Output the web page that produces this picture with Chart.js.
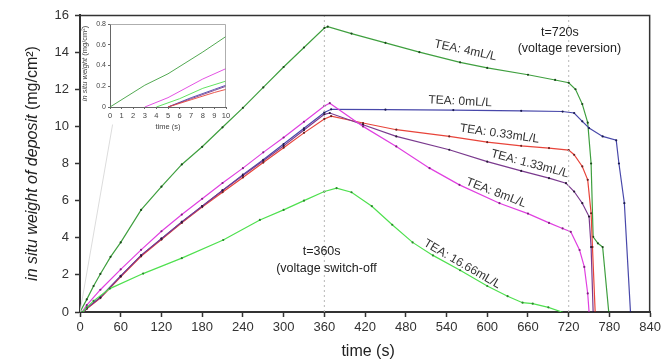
<!DOCTYPE html>
<html>
<head>
<meta charset="utf-8">
<script src="https://cdn.jsdelivr.net/npm/chart.js@4.4.1/dist/chart.umd.min.js"></script>
<style>
  body { margin: 0; background: #fff; }
  #wrap { position: relative; width: 664px; height: 364px; }
  #mainChart { position: absolute; left: 0; top: 0; }
  #insetChart { position: absolute; left: 78px; top: 14px; }
</style>
</head>
<body>
<div id="wrap">
  <canvas id="mainChart" width="664" height="364"></canvas>
  <canvas id="insetChart" width="156" height="122"></canvas>
</div>
<script>
// ---- data (time in s, weight in mg/cm2) ----
const xTicks = [0, 60, 120, 180, 240, 300, 360, 420, 480, 540, 600, 660, 720, 780, 840];
const yTicks = [0, 2, 4, 6, 8, 10, 12, 14, 16];

// TEA: 4mL/L
const t4 = [0, 10, 20, 30, 45, 60, 90, 120, 150, 180, 210, 240, 270, 300, 330, 360, 365, 400, 450, 500, 560, 600, 660, 700, 720, 730, 740, 748, 753, 756, 763, 770, 779];
const w4 = [0, 0.68, 1.4, 2.05, 2.97, 3.75, 5.5, 6.75, 7.95, 8.9, 9.95, 11.0, 12.1, 13.2, 14.25, 15.3, 15.37, 15.0, 14.5, 14.0, 13.45, 13.15, 12.78, 12.5, 12.35, 12.0, 11.2, 10.2, 8.0, 4.05, 3.7, 3.5, 0];
// TEA: 0mL/L
const t0 = [0, 5, 10, 30, 60, 90, 120, 150, 180, 210, 240, 270, 300, 330, 360, 370, 450, 550, 650, 711, 728, 740, 750, 770, 790, 794, 802, 811];
const w0 = [0, 0, 0.21, 0.8, 1.95, 3.05, 3.95, 4.85, 5.7, 6.55, 7.4, 8.2, 9.05, 9.9, 10.75, 10.92, 10.9, 10.88, 10.84, 10.8, 10.72, 10.27, 9.91, 9.46, 9.25, 8.0, 5.86, 0];
// TEA: 0.33mL/L
const t033 = [0, 5, 10, 30, 60, 90, 120, 150, 180, 210, 240, 270, 300, 330, 360, 370, 417, 466, 544, 600, 650, 691, 720, 728, 740, 748, 753, 755, 759];
const w033 = [0, 0, 0.17, 0.75, 1.9, 3.0, 3.9, 4.8, 5.65, 6.45, 7.25, 8.05, 8.85, 9.65, 10.4, 10.55, 10.18, 9.82, 9.46, 9.15, 8.95, 8.83, 8.72, 8.47, 7.84, 7.12, 5.32, 3.5, 0];
// TEA: 1.33mL/L
const t133 = [0, 5, 10, 30, 60, 90, 120, 150, 180, 210, 240, 270, 300, 330, 360, 368, 417, 466, 544, 600, 650, 691, 716, 728, 740, 750, 753, 756];
const w133 = [0, 0, 0.2, 0.78, 1.93, 3.05, 3.95, 4.85, 5.7, 6.55, 7.35, 8.15, 8.95, 9.8, 10.65, 10.72, 10.09, 9.46, 8.74, 8.1, 7.6, 7.21, 6.94, 6.49, 5.86, 5.14, 3.5, 0];
// TEA: 8mL/L
const t8 = [0, 3, 10, 30, 60, 90, 120, 150, 180, 210, 240, 270, 300, 330, 360, 368, 417, 466, 515, 559, 618, 660, 691, 711, 723, 736, 743, 748, 750];
const w8 = [0, 0, 0.37, 1.2, 2.3, 3.35, 4.35, 5.25, 6.1, 6.95, 7.75, 8.6, 9.4, 10.25, 11.1, 11.25, 10.0, 8.92, 7.75, 6.85, 5.86, 5.3, 4.8, 4.5, 4.32, 3.34, 2.43, 1.0, 0];
// TEA: 16.66mL/L
const t1666 = [0, 4, 10, 20, 44, 93, 150, 211, 265, 300, 330, 360, 378, 400, 430, 460, 490, 520, 560, 600, 630, 652, 667, 690, 710];
const w1666 = [0, 0, 0.25, 0.6, 1.26, 2.07, 2.9, 3.88, 4.96, 5.5, 6.0, 6.49, 6.67, 6.45, 5.7, 4.7, 3.75, 3.05, 2.25, 1.4, 0.85, 0.5, 0.45, 0.25, 0];

// inset (first 10 s)
const insetTicksX = [0, 1, 2, 3, 4, 5, 6, 7, 8, 9, 10];
const iT4 = [0, 3, 5, 8, 10];       const iW4 = [0, 0.21, 0.32, 0.53, 0.68];
const iT8 = [3, 5, 8, 10];          const iW8 = [0, 0.09, 0.27, 0.37];
const iT1666 = [4, 6, 8, 10];       const iW1666 = [0, 0.08, 0.18, 0.25];
const iT0 = [5, 7, 9, 10];          const iW0 = [0, 0.09, 0.17, 0.21];
const iT133 = [5, 7, 9, 10];        const iW133 = [0, 0.08, 0.16, 0.2];
const iT033 = [5, 7, 9, 10];        const iW033 = [0, 0.07, 0.14, 0.17];

const markTimes = [360, 720];

const colors = {
  c4: "#3f9f3f", c0: "#4848aa", c033: "#e8443a", c133: "#7a3a8e", c8: "#e040e0", c1666: "#4fe04f"
};

const pts = (xs, ys) => xs.map((v, i) => ({ x: v, y: ys[i] }));

const series = (label, xs, ys, color, dot) => ({
  label: label,
  data: pts(xs, ys),
  borderColor: color,
  borderWidth: 1.2,
  pointRadius: 1.1,
  pointBackgroundColor: dot,
  pointBorderWidth: 0,
  tension: 0,
});

const font = "'Liberation Sans', Arial, sans-serif";

// text drawn in data coordinates through the scales
const textPlugin = {
  id: "texts",
  afterDatasetsDraw(chart) {
    const { ctx, chartArea: a, scales: { x, y } } = chart;
    ctx.save();
    // frame
    ctx.strokeStyle = "#333";
    ctx.lineWidth = 1.5;
    ctx.beginPath();
    ctx.moveTo(a.left, a.top + 0.5);
    ctx.lineTo(a.right - 0.5, a.top + 0.5);
    ctx.lineTo(a.right - 0.5, a.bottom);
    ctx.stroke();

    ctx.fillStyle = "#222";
    ctx.textAlign = "center";
    ctx.textBaseline = "middle";
    ctx.font = "12.5px " + font;
    const notes = [
      ["t=360s", 356, 3.23],
      ["(voltage switch-off", 363, 2.36],
      ["t=720s", 707, 15.06],
      ["(voltage reversion)", 721, 14.2],
    ];
    notes.forEach(([s, tx, ty]) => ctx.fillText(s, x.getPixelForValue(tx), y.getPixelForValue(ty)));

    ctx.font = "12px " + font;
    ctx.fillStyle = "#333";
    const labels = [
      ["TEA: 4mL/L", 568, 14.09, 12],
      ["TEA: 0mL/L", 560, 11.34, 3],
      ["TEA: 0.33mL/L", 618, 9.6, 8],
      ["TEA: 1.33mL/L", 663, 7.98, 15],
      ["TEA: 8mL/L", 613, 6.42, 21],
      ["TEA: 16.66mL/L", 563, 2.58, 30],
    ];
    labels.forEach(([s, tx, ty, ang]) => {
      ctx.save();
      ctx.translate(x.getPixelForValue(tx), y.getPixelForValue(ty));
      ctx.rotate(ang * Math.PI / 180);
      ctx.fillText(s, 0, 0);
      ctx.restore();
    });

    // axis titles
    ctx.fillStyle = "#222";
    ctx.font = "16px " + font;
    ctx.fillText("time (s)", (a.left + a.right) / 2 + 3, 352);

    ctx.save();
    ctx.translate(33, (a.top + a.bottom) / 2);
    ctx.rotate(-Math.PI / 2);
    const p1 = "in situ weight of deposit ";
    const p2 = "(mg/cm²)";
    ctx.font = "italic 16px " + font;
    const w1 = ctx.measureText(p1).width;
    ctx.font = "16px " + font;
    const w2 = ctx.measureText(p2).width;
    ctx.textAlign = "left";
    ctx.font = "italic 16px " + font;
    ctx.fillText(p1, -(w1 + w2) / 2, 0);
    ctx.font = "16px " + font;
    ctx.fillText(p2, -(w1 + w2) / 2 + w1, 0);
    ctx.restore();
    ctx.restore();
  }
};

const markLines = markTimes.map(m => ({
  label: "t" + m,
  data: [{ x: m, y: 0 }, { x: m, y: 16 }],
  borderColor: "#b8b8b8",
  borderWidth: 1,
  borderDash: [2, 3],
  pointRadius: 0,
}));

new Chart(document.getElementById("mainChart").getContext("2d"), {
  type: "line",
  data: {
    datasets: [
      ...markLines,
      {
        label: "inset link",
        data: [{ x: 0, y: 0 }, { x: 48, y: 10.1 }],
        borderColor: "#dcdcdc",
        borderWidth: 1,
        pointRadius: 0,
      },
      series("TEA: 16.66mL/L", t1666, w1666, colors.c1666, "#2a8a2a"),
      series("TEA: 8mL/L", t8, w8, colors.c8, "#802080"),
      series("TEA: 1.33mL/L", t133, w133, colors.c133, "#2a1a3a"),
      series("TEA: 0.33mL/L", t033, w033, colors.c033, "#702020"),
      series("TEA: 0mL/L", t0, w0, colors.c0, "#1a1a50"),
      series("TEA: 4mL/L", t4, w4, colors.c4, "#1a4a1a"),
    ],
  },
  options: {
    responsive: false,
    devicePixelRatio: 1,
    animation: false,
    layout: { padding: { top: 15, right: 13, left: 0, bottom: 0 } },
    plugins: { legend: { display: false }, tooltip: { enabled: false } },
    scales: {
      x: {
        type: "linear",
        min: 0,
        max: 840,
        afterFit: s => { s.height = 52; },
        afterBuildTicks: s => { s.ticks = xTicks.map(v => ({ value: v })); },
        grid: { drawOnChartArea: false, tickLength: 5, color: "#333", tickWidth: 1.5 },
        border: { color: "#333", width: 2 },
        ticks: { color: "#333", font: { family: font, size: 13 }, padding: 3, maxRotation: 0 },
      },
      y: {
        type: "linear",
        min: 0,
        max: 16,
        afterFit: s => { s.width = 80; },
        afterBuildTicks: s => { s.ticks = yTicks.map(v => ({ value: v })); },
        grid: { drawOnChartArea: false, tickLength: 5, color: "#333", tickWidth: 1.5 },
        border: { color: "#333", width: 2 },
        ticks: { color: "#333", font: { family: font, size: 13 }, padding: 6 },
      },
    },
  },
  plugins: [textPlugin],
});

// ---- inset ----
const insetPlugin = {
  id: "insetBits",
  beforeDraw(chart) {
    const { ctx, chartArea: a } = chart;
    ctx.save();
    ctx.fillStyle = "#fff";
    ctx.fillRect(a.left, a.top, a.right - a.left, a.bottom - a.top);
    ctx.restore();
  },
  afterDatasetsDraw(chart) {
    const { ctx, chartArea: a } = chart;
    ctx.save();
    ctx.strokeStyle = "#999";
    ctx.lineWidth = 0.8;
    ctx.beginPath();
    ctx.moveTo(a.left, a.top + 0.5);
    ctx.lineTo(a.right - 0.5, a.top + 0.5);
    ctx.lineTo(a.right - 0.5, a.bottom);
    ctx.stroke();
    ctx.fillStyle = "#444";
    ctx.textAlign = "center";
    ctx.textBaseline = "middle";
    ctx.font = "7.5px " + font;
    ctx.fillText("time (s)", (a.left + a.right) / 2, 113);
    ctx.save();
    ctx.translate(7, (a.top + a.bottom) / 2 - 2);
    ctx.rotate(-Math.PI / 2);
    const p1 = "in situ weight ";
    const p2 = "(mg/cm²)";
    ctx.font = "italic 7.5px " + font;
    const w1 = ctx.measureText(p1).width;
    ctx.font = "7.5px " + font;
    const w2 = ctx.measureText(p2).width;
    ctx.textAlign = "left";
    ctx.font = "italic 7.5px " + font;
    ctx.fillText(p1, -(w1 + w2) / 2, 0);
    ctx.font = "7.5px " + font;
    ctx.fillText(p2, -(w1 + w2) / 2 + w1, 0);
    ctx.restore();
    ctx.restore();
  }
};

const iSeries = (xs, ys, color) => ({
  data: pts(xs, ys),
  borderColor: color,
  borderWidth: 0.9,
  pointRadius: 0,
});

new Chart(document.getElementById("insetChart").getContext("2d"), {
  type: "line",
  data: {
    datasets: [
      iSeries(iT033, iW033, colors.c033),
      iSeries(iT133, iW133, colors.c133),
      iSeries(iT0, iW0, colors.c0),
      iSeries(iT1666, iW1666, colors.c1666),
      iSeries(iT8, iW8, colors.c8),
      iSeries(iT4, iW4, colors.c4),
    ],
  },
  options: {
    responsive: false,
    devicePixelRatio: 1,
    animation: false,
    layout: { padding: { top: 10, right: 8, left: 0, bottom: 0 } },
    plugins: { legend: { display: false }, tooltip: { enabled: false } },
    scales: {
      x: {
        type: "linear",
        min: 0,
        max: 10,
        afterFit: s => { s.height = 29; },
        afterBuildTicks: s => { s.ticks = insetTicksX.map(v => ({ value: v })); },
        grid: { drawOnChartArea: false, tickLength: 2, color: "#666" },
        border: { color: "#666", width: 1 },
        ticks: { color: "#444", font: { family: font, size: 7.5 }, padding: 2, maxRotation: 0, autoSkip: false },
      },
      y: {
        type: "linear",
        min: 0,
        max: 0.8,
        afterFit: s => { s.width = 32; },
        ticks: { stepSize: 0.2, color: "#444", font: { family: font, size: 7 }, padding: 2 },
        grid: { drawOnChartArea: false, tickLength: 2, color: "#666" },
        border: { color: "#666", width: 1 },
      },
    },
  },
  plugins: [insetPlugin],
});
</script>
</body>
</html>
